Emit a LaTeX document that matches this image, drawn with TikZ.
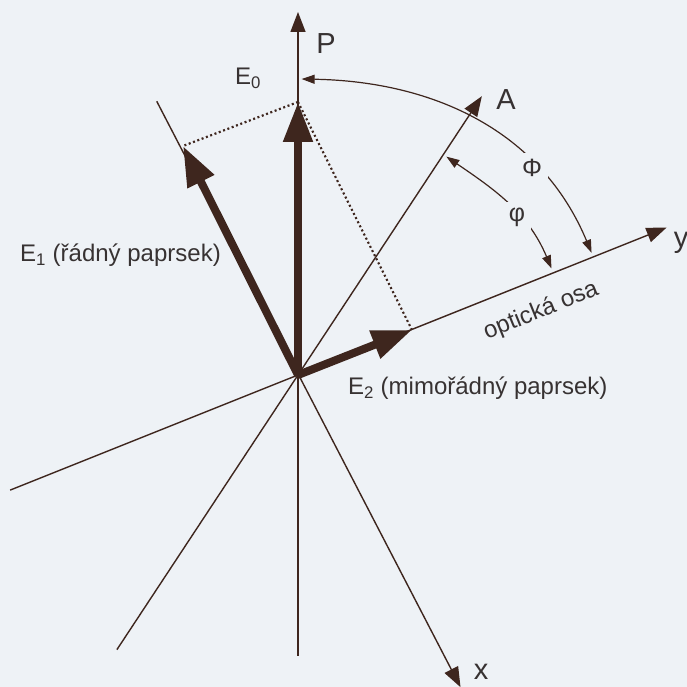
\documentclass[tikz,border=0pt]{standalone}
\usepackage{fontspec}
\setmainfont{Liberation Sans}
\usetikzlibrary{arrows.meta,calc}
\definecolor{bg}{RGB}{238,242,246}
\definecolor{ink}{RGB}{62,38,30}
\definecolor{txt}{RGB}{55,50,50}
\begin{document}
\begin{tikzpicture}[x=1pt,y=1pt,
  axis/.style={ink, line width=1.4pt},
  axtip/.style={-{Triangle[length=20pt,width=15pt]}},
  vec/.style={ink, line width=8pt, -{Triangle[length=40pt,width=28pt]}},
  dots/.style={ink, line width=2.2pt, dash pattern=on 2pt off 2.6pt},
  arcl/.style={ink, line width=1.2pt, {Triangle[length=13pt,width=9pt]}-{Triangle[length=13pt,width=9pt]}},
  lbl/.style={text=txt, font=\fontsize{29}{33}\selectfont, inner sep=0pt},
  glbl/.style={text=txt, font=\fontsize{25}{28}\selectfont, fill=bg, inner sep=6pt},
  etxt/.style={text=txt, font=\fontsize{24}{28}\selectfont, inner sep=0pt}]
\fill[bg] (0,0) rectangle (687,687);
\useasboundingbox (0,0) rectangle (687,687);
% origin and axis ends
\coordinate (O) at (298,312);
\coordinate (Ptip) at (298,675);
\coordinate (Pbot) at (298,31);
\coordinate (ytip) at ($(O)+(21.8:397)$);
\coordinate (yend) at ($(O)+(201.8:310)$);
\coordinate (xtip) at ($(O)+(-62.5:352)$);
\coordinate (xend) at ($(O)+(117.3:308)$);
\coordinate (Atip) at ($(O)+(56.6:334)$);
\coordinate (Aend) at ($(O)+(236.6:329)$);
% vector tips
\coordinate (E0) at (298,585);
\coordinate (E1) at (183,541);
\coordinate (E2) at (412,357);
% arc ends
\coordinate (PhiA) at ($(O)+(89.3:296)$);
\coordinate (PhiB) at ($(O)+(22.6:318)$);
\coordinate (phiA) at ($(O)+(55.8:264)$);
\coordinate (phiB) at ($(O)+(22.8:275)$);
% axes
\draw[axis,axtip] (Pbot) -- (Ptip);
\draw[axis,axtip] (yend) -- (ytip);
\draw[axis,axtip] (xend) -- (xtip);
\draw[axis,axtip] (Aend) -- (Atip);
% dotted projections
\draw[dots] (E0) -- (E1);
\draw[dots] (E0) -- (E2);
% vectors
\draw[vec] (O) -- (E0);
\draw[vec] (O) -- (E1);
\draw[vec] (O) -- (E2);
% angle arcs
\draw[arcl] (PhiA) to[out=-1,in=112.6] (PhiB);
\draw[arcl] (phiA) to[out=-34.2,in=112.8] (phiB);
% labels
\node[glbl] (Phi) at (532,519) {Φ};
\node[glbl] (phi) at (517,470) {φ};
\node[lbl] (Pl) at (326,643) {P};
\node[lbl] (Al) at (506,587) {A};
\node[lbl] (yl) at (681,444) {y};
\node[lbl] (xl) at (481,15) {x};
\node[etxt, anchor=base west] (E0l) at (235,602) {E\textsubscript{0}};
\node[etxt, anchor=base west] (E1l) at (20,425) {E\textsubscript{1} (řádný paprsek)};
\node[etxt, anchor=base west] (E2l) at (348,292) {E\textsubscript{2} (mimořádný paprsek)};
\node[etxt, rotate=22] (osa) at (541,376) {optická osa};
\end{tikzpicture}
\end{document}
